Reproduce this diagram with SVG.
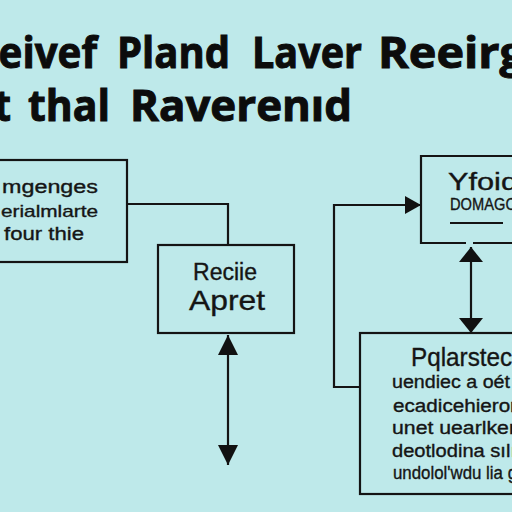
<svg xmlns="http://www.w3.org/2000/svg" width="512" height="512" viewBox="0 0 512 512">
<style>
.box{fill:none;stroke:#141414;stroke-width:2.2}
.ln{fill:none;stroke:#141414;stroke-width:2.2}
.ttl{font-family:"Open Sans","Liberation Sans",sans-serif;font-weight:bold;font-size:43px;fill:#0c0c0c;stroke:#0c0c0c;stroke-width:1}
.t{font-family:"Liberation Sans","DejaVu Sans",sans-serif;fill:#151515;stroke:#151515;stroke-width:0.35}
</style>
<defs>
<marker id="a20" markerUnits="userSpaceOnUse" markerWidth="20" markerHeight="20" refX="20" refY="10" orient="auto-start-reverse" viewBox="0 0 20 20"><path d="M0,0 L20,10 L0,20 z" fill="#111"/></marker>
<marker id="a16" markerUnits="userSpaceOnUse" markerWidth="16" markerHeight="18" refX="16" refY="9" orient="auto" viewBox="0 0 16 18"><path d="M0,0 L16,9 L0,18 z" fill="#111"/></marker>
<marker id="a15" markerUnits="userSpaceOnUse" markerWidth="15" markerHeight="24" refX="15" refY="12" orient="auto-start-reverse" viewBox="0 0 15 24"><path d="M0,0 L15,12 L0,24 z" fill="#111"/></marker>
</defs>
<rect width="512" height="512" fill="#bee9ea"/>
<g id="title">
<text class="ttl" x="-28" y="68" textLength="125" lengthAdjust="spacingAndGlyphs">Reivef</text>
<text class="ttl" x="117" y="68" textLength="113" lengthAdjust="spacingAndGlyphs">Pland</text>
<text class="ttl" x="252" y="68" textLength="110" lengthAdjust="spacingAndGlyphs">Laver</text>
<text class="ttl" x="378" y="68" textLength="148" lengthAdjust="spacingAndGlyphs">Reeirg</text>
<text class="ttl" x="-5" y="121" textLength="16" lengthAdjust="spacingAndGlyphs">t</text>
<text class="ttl" x="28" y="121" textLength="82" lengthAdjust="spacingAndGlyphs">thal</text>
<text class="ttl" x="130" y="121" textLength="222" lengthAdjust="spacingAndGlyphs">Raverenıd</text>
</g>
<g id="connectors">
<polyline class="ln" points="127,204 228,204 228,245"/>
<line class="ln" x1="228" y1="335" x2="228" y2="465" marker-start="url(#a20)" marker-end="url(#a20)"/>
<polyline class="ln" points="360,387 334,387 334,205 421,205" marker-end="url(#a16)"/>
<line class="ln" x1="471" y1="247" x2="471" y2="333" marker-start="url(#a15)" marker-end="url(#a15)"/>
</g>
<g id="nodeA">
<rect class="box" x="-5" y="160" width="132" height="102"/>
<text class="t" x="2" y="193" font-size="18" textLength="96" lengthAdjust="spacingAndGlyphs">mgenges</text>
<text class="t" x="1" y="217" font-size="17" textLength="97" lengthAdjust="spacingAndGlyphs">erialmlarte</text>
<text class="t" x="4" y="240" font-size="18" textLength="80" lengthAdjust="spacingAndGlyphs">four thie</text>
</g>
<g id="nodeB">
<rect class="box" x="158" y="245" width="136" height="88"/>
<text class="t" x="193" y="280" font-size="23" textLength="64" lengthAdjust="spacingAndGlyphs">Reciie</text>
<text class="t" x="189" y="310" font-size="28" textLength="76" lengthAdjust="spacingAndGlyphs">Apret</text>
</g>
<g id="nodeC">
<path class="box" d="M466,243 H421 V156 H520 M473,243 H520"/>
<text class="t" x="448" y="190" font-size="23" textLength="70" lengthAdjust="spacingAndGlyphs">Yfoiq</text>
<text class="t" x="450" y="210" font-size="17" textLength="66" lengthAdjust="spacingAndGlyphs">DOMAGC</text>
<line class="ln" x1="450" y1="223" x2="503" y2="223"/>
</g>
<g id="nodeD">
<rect class="box" x="360" y="333" width="170" height="161"/>
<text class="t" x="411" y="366" font-size="25" textLength="108" lengthAdjust="spacingAndGlyphs">Pqlarstecı</text>
<text class="t" x="392" y="388" font-size="18" textLength="118" lengthAdjust="spacingAndGlyphs">uendiec a oét</text>
<text class="t" x="393" y="412" font-size="18" textLength="124" lengthAdjust="spacingAndGlyphs">ecadicehieror</text>
<text class="t" x="392" y="434" font-size="18" textLength="124" lengthAdjust="spacingAndGlyphs">unet uearlker</text>
<text class="t" x="392" y="457" font-size="18" textLength="124" lengthAdjust="spacingAndGlyphs">deotlodina sılı</text>
<text class="t" x="393" y="479" font-size="18" textLength="124" lengthAdjust="spacingAndGlyphs">undolol'wdu lia ɡ</text>
</g>
</svg>
